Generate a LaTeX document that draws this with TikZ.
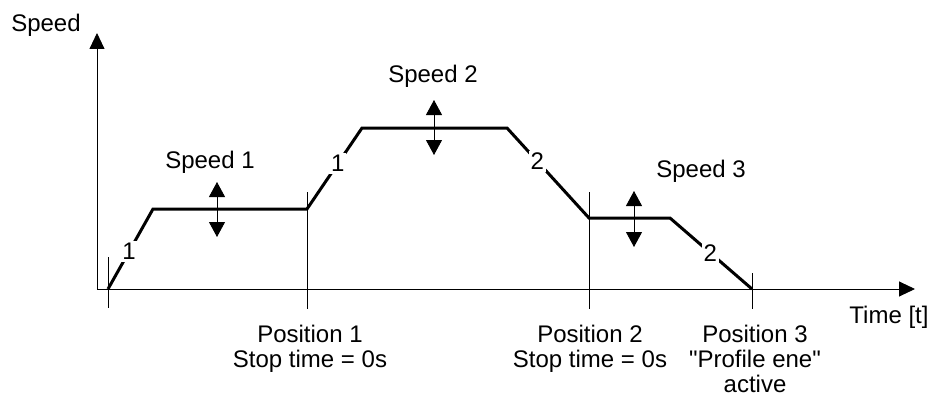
\documentclass[tikz,border=0pt]{standalone}
\usepackage{fontspec}
\setmainfont{Liberation Sans}
\usetikzlibrary{arrows.meta}
\usetikzlibrary{positioning}

\begin{document}
\begin{tikzpicture}[x=1pt,y=-1pt,
  font=\fontsize{24}{25}\selectfont,
  thinline/.style={line width=0.9pt},
  profile/.style={line width=3pt,line join=miter},
  axistip/.style={-{Triangle[length=16pt,width=15pt]}},
  updown/.style={line width=0.9pt,{Triangle[length=15pt,width=16pt]}-{Triangle[length=15pt,width=16pt]}},
  slope/.style={fill=white,inner sep=2pt},
  poslabel/.style={align=center,inner sep=0pt,below=16pt of #1}]
\useasboundingbox (0,0) rectangle (933,401);

% axes
\coordinate (O) at (97,289);
\coordinate (ytop) at (97,33);
\coordinate (xend) at (915,289);
\draw[thinline,axistip] (O) -- (ytop);
\draw[thinline,axistip] (O) -- (xend);
\node[anchor=base] (ylab) at (46,32) {Speed};
\node[anchor=base] (xlab) at (889,323) {Time [t]};

% position marks
\coordinate (t0a) at (108,257); \coordinate (t0b) at (108,308);
\coordinate (t1a) at (307,192); \coordinate (t1b) at (307,309);
\coordinate (t2a) at (589,192); \coordinate (t2b) at (589,309);
\coordinate (t3a) at (752,273); \coordinate (t3b) at (752,309);
\draw[thinline] (t0a) -- (t0b);
\draw[thinline] (t1a) -- (t1b);
\draw[thinline] (t2a) -- (t2b);
\draw[thinline] (t3a) -- (t3b);

% speed profile
\coordinate (p0) at (108,289);
\coordinate (p1) at (153,209);
\coordinate (p2) at (307,209);
\coordinate (p3) at (362,128);
\coordinate (p4) at (507,128);
\coordinate (p5) at (589,218);
\coordinate (p6) at (670,218);
\coordinate (p7) at (752,289);
\draw[profile] (p0) -- node[slope,pos=0.47] (r1) {1} (p1) -- (p2)
  -- node[slope,pos=0.56] (r2) {1} (p3) -- (p4)
  -- node[slope,pos=0.37] (r3) {2} (p5) -- (p6)
  -- node[slope,pos=0.49] (r4) {2} (p7);

% speed settings
\coordinate (a1t) at (217,182); \coordinate (a1b) at (217,237);
\coordinate (a2t) at (434,100); \coordinate (a2b) at (434,155);
\coordinate (a3t) at (634,191); \coordinate (a3b) at (634,247);
\draw[updown] (a1t) -- (a1b);
\draw[updown] (a2t) -- (a2b);
\draw[updown] (a3t) -- (a3b);
\node[anchor=base] (v1) at (210,168) {Speed 1};
\node[anchor=base] (v2) at (433,83) {Speed 2};
\node[anchor=base] (v3) at (701,177) {Speed 3};

\node[poslabel=t1b,xshift=3pt] (pos1) {Position 1\\Stop time = 0s};
\node[poslabel=t2b,xshift=1pt] (pos2) {Position 2\\Stop time = 0s};
\node[poslabel=t3b,xshift=3pt] (pos3) {Position 3\\\textquotedbl Profile ene\textquotedbl\\active};

\end{tikzpicture}
\end{document}
